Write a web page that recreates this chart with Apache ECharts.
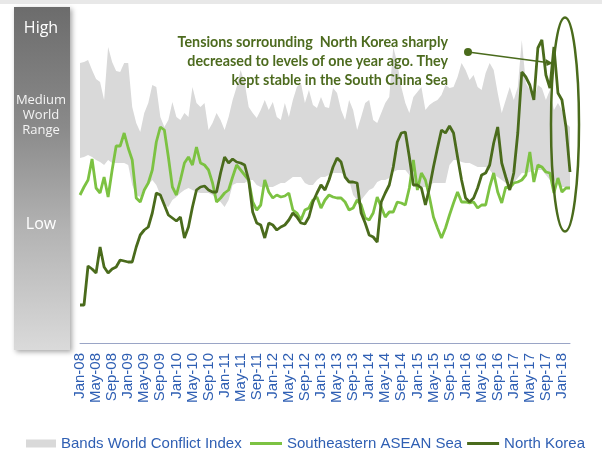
<!DOCTYPE html>
<html>
<head>
<meta charset="utf-8">
<script src="https://cdn.jsdelivr.net/npm/echarts@6/dist/echarts.min.js"></script>
<style>
  html, body { margin: 0; padding: 0; background: #fff; }
  #chart { width: 602px; height: 452px; }
</style>
</head>
<body>
<div id="chart"></div>
<script>
// months Jan-08 .. Mar-18
const monthNames = ['Jan', 'Feb', 'Mar', 'Apr', 'May', 'Jun', 'Jul', 'Aug', 'Sep', 'Oct', 'Nov', 'Dec'];
const months = [];
for (let y = 8; y <= 18; y++) {
    for (let m = 0; m < 12; m++) {
        if (y === 18 && m > 2) break;
        months.push(monthNames[m] + '-' + (y < 10 ? '0' + y : y));
    }
}

// world conflict index band (lower / upper edge)
const bandLow = [
    185, 186, 188, 186, 183, 181, 178, 183, 180, 180,
    180, 180, 178, 158, 148, 146, 155, 158, 163, 158,
    148, 138, 136, 143, 146, 150, 153, 155, 153, 151,
    150, 150, 150, 148, 143, 141, 136, 143, 158, 160,
    160, 160, 163, 163, 158, 156, 156, 156, 156, 158,
    160, 160, 163, 166, 166, 166, 160, 158, 158, 163,
    166, 166, 168, 170, 170, 170, 168, 163, 148, 143,
    143, 148, 153, 155, 161, 163, 163, 165, 171, 173,
    173, 173, 168, 163, 156, 156, 156, 158, 160, 160,
    160, 160, 178, 183, 183, 181, 180, 180, 178, 176,
    176, 176, 173, 168, 166, 163, 160, 160, 160, 165,
    170, 170, 171, 173, 173, 173, 168, 163, 163, 158,
    156, 156, 156
];
const bandHigh = [
    280, 281, 283, 273, 264, 261, 243, 296, 281, 272,
    271, 280, 280, 236, 220, 211, 230, 240, 258, 256,
    226, 216, 223, 241, 226, 223, 230, 226, 256, 240,
    236, 240, 213, 220, 230, 223, 213, 226, 243, 256,
    273, 260, 236, 230, 225, 233, 243, 233, 241, 226,
    223, 240, 226, 243, 256, 260, 240, 253, 238, 235,
    246, 236, 235, 255, 250, 233, 223, 243, 233, 213,
    226, 240, 243, 223, 220, 230, 240, 246, 296, 280,
    256, 240, 230, 246, 251, 256, 233, 238, 241, 243,
    248, 258, 255, 256, 266, 280, 273, 263, 268, 256,
    253, 270, 280, 273, 250, 230, 243, 256, 243, 256,
    303, 260, 253, 243, 258, 255, 243, 253, 233, 240,
    233, 220, 216
];

const asean = [
    148, 156, 163, 184, 155, 150, 166, 146, 173, 197,
    197, 210, 195, 183, 145, 141, 153, 160, 173, 201,
    216, 213, 186, 156, 148, 163, 180, 186, 178, 196,
    180, 178, 173, 160, 141, 145, 150, 153, 166, 178,
    173, 168, 163, 141, 133, 138, 163, 151, 145, 148,
    146, 147, 150, 133, 130, 123, 133, 135, 143, 146,
    135, 143, 148, 146, 145, 145, 141, 133, 135, 143,
    138, 125, 123, 130, 146, 136, 126, 131, 131, 141,
    140, 138, 155, 183, 153, 170, 163, 146, 126, 115,
    105, 115, 128, 140, 151, 141, 141, 140, 141, 135,
    138, 138, 156, 170, 151, 140, 156, 155, 160, 161,
    163, 168, 191, 161, 178, 176, 171, 170, 150, 165,
    151, 155, 155
];

const northKorea = [
    38, 38, 77, 74, 70, 96, 76, 70, 74, 76,
    83, 82, 81, 81, 96, 108, 113, 116, 130, 150,
    148, 138, 128, 125, 122, 126, 105, 116, 136, 153,
    156, 157, 153, 151, 151, 170, 186, 180, 184, 181,
    180, 178, 163, 131, 120, 118, 105, 120, 118, 113,
    116, 118, 123, 130, 126, 120, 119, 126, 141, 150,
    158, 153, 163, 176, 185, 181, 166, 161, 161, 160,
    130, 120, 108, 106, 101, 141, 150, 158, 176, 201,
    210, 211, 186, 158, 158, 155, 138, 155, 176, 195,
    213, 210, 217, 210, 186, 163, 145, 141, 145, 155,
    168, 170, 178, 200, 216, 180, 166, 153, 170, 210,
    271, 266, 258, 243, 295, 303, 268, 255, 296, 250,
    243, 216, 171
];

const bandWidth = bandHigh.map((v, i) => v - bandLow[i]);

const blue = '#2f5fb3';
const lightGreen = '#7cc242';
const darkGreen = '#4a6b1c';
const legendFont = { color: blue, fontSize: 15, fontFamily: 'Liberation Sans, Arial, sans-serif' };

const myChart = echarts.init(document.getElementById('chart'));
const option = {
    animation: false,
    grid: { left: 80, right: 32, top: 10, bottom: 109 },
    xAxis: {
        type: 'category',
        data: months,
        boundaryGap: false,
        axisLine: { lineStyle: { color: '#9aa5c6', width: 1 } },
        axisTick: { show: false },
        axisLabel: {
            interval: 3,
            rotate: 90,
            margin: 10,
            color: blue,
            fontSize: 15,
            fontFamily: 'Liberation Sans, Arial, sans-serif'
        },
        splitLine: { show: false }
    },
    yAxis: {
        type: 'value',
        min: 0,
        max: 333,
        show: false
    },
    legend: [
        {
            left: 21,
            top: 431,
            itemWidth: 30,
            itemHeight: 8,
            icon: 'rect',
            textStyle: legendFont,
            data: ['Bands World Conflict Index']
        },
        {
            left: 245,
            top: 431,
            itemWidth: 32,
            itemHeight: 3,
            itemGap: 5,
            icon: 'rect',
            textStyle: legendFont,
            data: ['Southeastern ASEAN Sea', 'North Korea']
        }
    ],
    series: [
        {
            name: 'bandBase',
            type: 'line',
            stack: 'band',
            data: bandLow,
            symbol: 'none',
            lineStyle: { opacity: 0 },
            silent: true
        },
        {
            name: 'Bands World Conflict Index',
            type: 'line',
            stack: 'band',
            data: bandWidth,
            symbol: 'none',
            itemStyle: { color: '#d9d9d9' },
            lineStyle: { width: 0, color: '#d9d9d9' },
            areaStyle: { color: '#d9d9d9', opacity: 1 },
            silent: true
        },
        {
            name: 'Southeastern ASEAN Sea',
            type: 'line',
            data: asean,
            symbol: 'none',
            itemStyle: { color: lightGreen },
            lineStyle: { color: lightGreen, width: 2.8 }
        },
        {
            name: 'North Korea',
            type: 'line',
            data: northKorea,
            symbol: 'none',
            itemStyle: { color: darkGreen },
            lineStyle: { color: darkGreen, width: 2.8 }
        }
    ],
    graphic: [
        { type: 'rect', shape: { x: 0, y: 0, width: 602, height: 4 }, style: { fill: '#e8e8e8' }, silent: true },
        {
            type: 'rect',
            shape: { x: 14, y: 7, width: 56, height: 343 },
            style: {
                fill: new echarts.graphic.LinearGradient(0, 0, 0, 1, [
                    { offset: 0, color: '#6c6c6c' },
                    { offset: 0.35, color: '#8a8a8a' },
                    { offset: 0.65, color: '#b3b3b3' },
                    { offset: 1, color: '#dadada' }
                ]),
                shadowBlur: 5,
                shadowOffsetX: 2,
                shadowOffsetY: 2,
                shadowColor: 'rgba(0,0,0,0.35)'
            },
            z: 10,
            silent: true
        },
        {
            type: 'text', x: 41, y: 28, z: 11,
            style: { text: 'High', fill: '#fff', font: '16px "Open Sans", sans-serif', align: 'center', verticalAlign: 'middle' }
        },
        {
            type: 'text', x: 41, y: 115, z: 11,
            style: { text: 'Medium\nWorld\nRange', fill: '#f4f4f4', font: '13px "Open Sans", sans-serif', lineHeight: 15, align: 'center', verticalAlign: 'middle' }
        },
        {
            type: 'text', x: 41, y: 224, z: 11,
            style: { text: 'Low', fill: '#fff', font: '16px "Open Sans", sans-serif', align: 'center', verticalAlign: 'middle' }
        },
        {
            type: 'text', x: 448, y: 61, z: 11,
            style: {
                text: 'Tensions sorrounding  North Korea sharply\ndecreased to levels of one year ago. They\nkept stable in the South China Sea',
                fill: '#4d6b1f',
                font: 'bold 14.3px Lato, sans-serif',
                lineHeight: 19,
                align: 'right',
                verticalAlign: 'middle'
            }
        },
        { type: 'circle', shape: { cx: 468, cy: 52, r: 4 }, style: { fill: darkGreen }, z: 11 },
        { type: 'line', shape: { x1: 468, y1: 52, x2: 547, y2: 62.5 }, style: { stroke: darkGreen, lineWidth: 1.5 }, z: 11 },
        { type: 'polygon', shape: { points: [[553, 63.3], [545.6, 59.1], [546.5, 66.1]] }, style: { fill: darkGreen }, z: 11 },
        {
            type: 'ellipse',
            shape: { cx: 565, cy: 124.5, rx: 14, ry: 107 },
            style: { fill: null, stroke: darkGreen, lineWidth: 2.5 },
            z: 11
        }
    ]
};
myChart.setOption(option);
</script>
</body>
</html>
